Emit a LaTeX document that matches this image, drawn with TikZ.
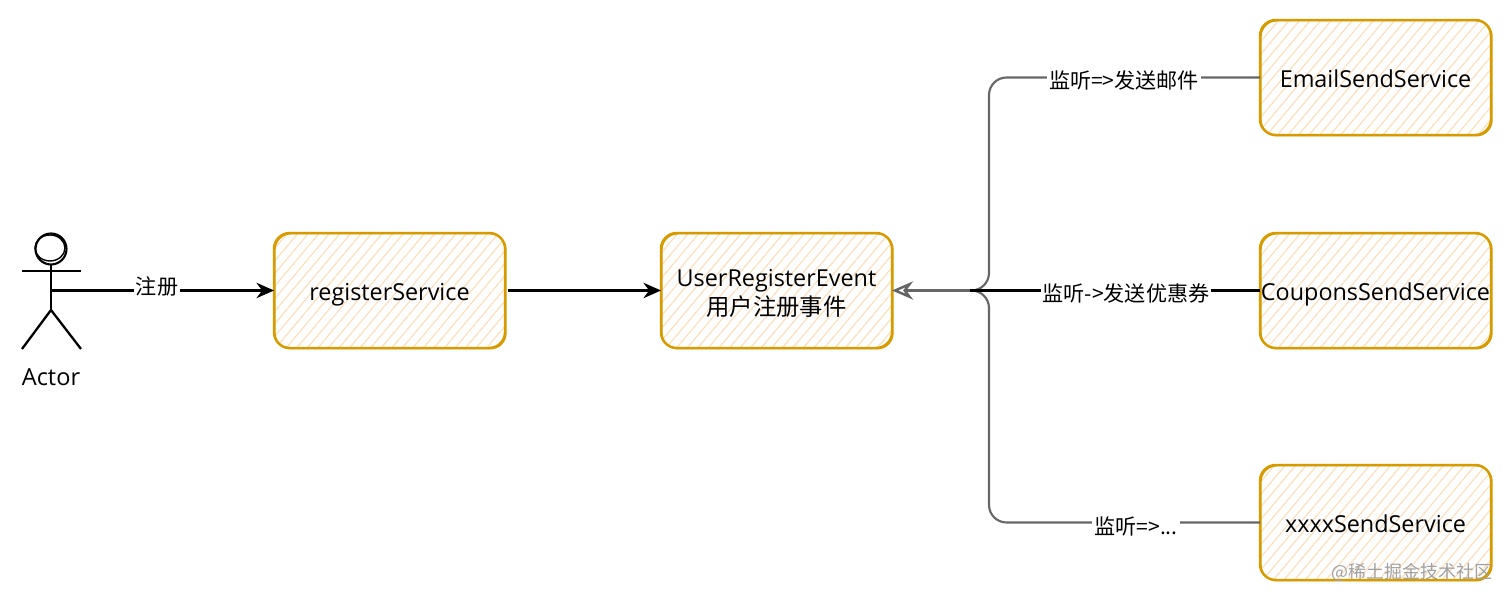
\documentclass[tikz,border=0pt]{standalone}
\usepackage{fontspec}
\setmainfont{Open Sans}
\newfontfamily\cjk{Noto Sans CJK SC}
\usetikzlibrary{arrows.meta, patterns.meta}
\definecolor{CY}{RGB}{215,155,0}
\definecolor{LY}{RGB}{255,220,180}
\definecolor{GL}{RGB}{102,102,102}
\definecolor{WM}{RGB}{160,160,160}

\begin{document}
\begin{tikzpicture}[
  svc/.style={draw=CY, line width=0.7pt, rounded corners=4.5pt,
              pattern={Lines[angle=50, distance=2.3pt, line width=0.3pt]},
              pattern color=LY,
              minimum width=2.31cm, minimum height=1.15cm,
              inner sep=0pt, outer sep=0pt, align=center, font=\fontsize{6.65}{8.2}\selectfont,
              postaction={draw=CY, line width=0.35pt,
                          transform canvas={shift={(0.3pt,-0.25pt)}}}},
  svcone/.style={svc, execute at begin node={\rule[-1.7pt]{0pt}{9.1pt}}},
  arr/.style={-{Stealth[length=5pt, width=4.4pt]}, line width=0.6pt, draw=black},
  lis/.style={line width=0.6pt, draw=GL, rounded corners=5pt},
  lab/.style={fill=white, inner sep=0.6pt, font=\cjk\fontsize{6}{7}\selectfont},
  limb/.style={line width=0.65pt, draw=black}
]
\useasboundingbox (0,0) rectangle (15.12,6.01);

% Services
\node[svcone] (register) at (3.895,3.105) {registerService};
\node[svc] (event) at (7.765,3.105) {\rule[-1.7pt]{0pt}{8.4pt}UserRegisterEvent\\{\cjk 用户注册事件}};
\node[svcone] (email) at (13.755,5.235) {EmailSendService};
\node[svcone] (coupons) at (13.755,3.105) {CouponsSendService};
\node[svcone] (xxxx) at (13.755,0.785) {xxxxSendService};

% Actor
\node[circle, draw=black, line width=0.6pt, minimum size=0.31cm, inner sep=0pt, outer sep=0pt] (head) at (0.51,3.52) {};
\draw[limb, line width=0.4pt] (0.50,3.53) ellipse (0.15 and 0.13);
\coordinate (hip) at (0.51,2.91);
\coordinate (armL) at (0.22,3.30);
\coordinate (armR) at (0.81,3.30);
\coordinate (footL) at (0.22,2.52);
\coordinate (footR) at (0.81,2.52);
\coordinate (waist) at (0.51,3.105);
\draw[limb] (head)--(hip);
\draw[limb] (armL)--(armR);
\draw[limb] (footL)--(hip)--(footR);
\node[font=\fontsize{6.7}{8}\selectfont] (actor) at (0.51,2.24) {Actor};

% Arrows
\draw[arr] (waist)--(register.west);
\node[lab] (reglab) at (1.57,3.14) {注册};
\coordinate (regout) at (5.08,3.105);
\draw[arr] (regout)--(event.west);

% Listeners
\coordinate (bus) at (9.89,3.105);
\coordinate (busend) at (9.70,3.105);
\draw[lis] (email.west) -| (bus) -- (busend);
\draw[lis] (xxxx.west) -| (bus) -- (busend);
\draw[lis, line width=0.65pt, draw=black] (coupons.west)--(busend);
\draw[-{Stealth[open, length=6pt, width=5.2pt]}, line width=0.7pt, draw=GL] (busend)--(event.east);
\node[lab] (emaillab) at (11.24,5.21) {监听=>发送邮件};
\node[lab] (couponslab) at (11.26,3.08) {监听->发送优惠券};
\node[lab] (xxxxlab) at (11.36,0.75) {监听=>...};

% Watermark
\node[anchor=east, inner sep=0pt, text=WM, font=\cjk\fontsize{5.1}{6}\selectfont] (mark) at (14.93,0.29) {@稀土掘金技术社区};
\end{tikzpicture}
\end{document}
